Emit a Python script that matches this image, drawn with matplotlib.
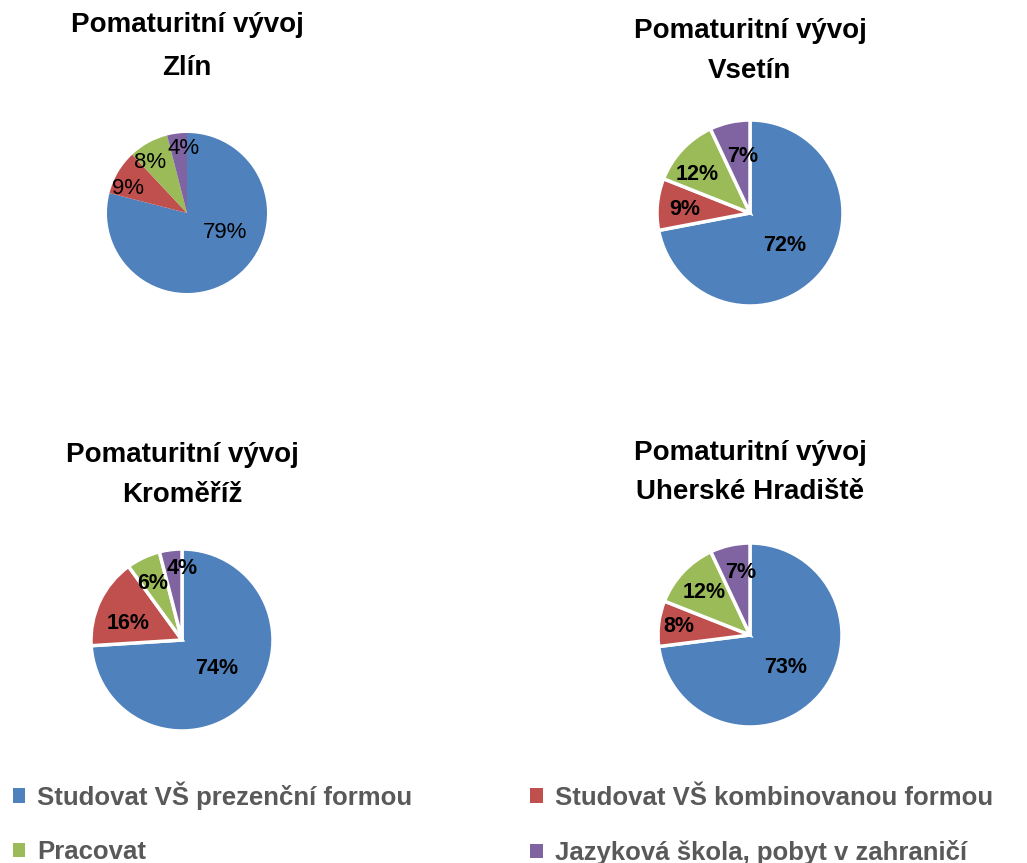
import numpy as np
import matplotlib.pyplot as plt

# Data
kategorie = ["Studovat VŠ prezenční formou", "Studovat VŠ kombinovanou formou",
             "Pracovat", "Jazyková škola, pobyt v zahraničí"]
mesta = ["Zlín", "Vsetín", "Kroměříž", "Uherské Hradiště"]
zlin = [79, 9, 8, 4]
vsetin = [72, 9, 12, 7]
kromeriz = [74, 16, 6, 4]
uh = [73, 8, 12, 7]
hodnoty = [zlin, vsetin, kromeriz, uh]

barvy = ["#4F81BD", "#C0504D", "#9BBB59", "#8064A2"]

W, H = 1027, 863
fig = plt.figure(figsize=(W / 100, H / 100), dpi=100)
plt.rcParams['font.family'] = ['Liberation Sans', 'DejaVu Sans']

# center x, center y (px from top), radius px, title baselines
rozlozeni = [
    (187, 213, 80, 32, 75),
    (750, 213, 93, 38, 78),
    (182, 640, 91, 462, 502),
    (750, 635, 92, 460, 499),
]

# label placement per slice: (angle shift in deg from mid angle, distance)
popisky = [
    [(25, 0.53), (8, 0.80), (7, 0.78), (-4, 0.81)],
    [(-3, 0.51), (2, 0.70), (7, 0.70), (-5, 0.61)],
    [(4, 0.49), (8, 0.62), (2, 0.70), (-7, 0.79)],
    [(-1, 0.52), (0, 0.78), (0, 0.68), (-4, 0.69)],
]

wedges0 = None
for i, (mesto, vals) in enumerate(zip(mesta, hodnoty)):
    cx, cy, r, b1, b2 = rozlozeni[i]
    ax = fig.add_axes([(cx - r) / W, (H - cy - r) / H, 2 * r / W, 2 * r / H])
    if i == 0:
        wp = dict(linewidth=0)
        tp = dict(fontsize=16, color="black")
    else:
        wp = dict(linewidth=2.5, edgecolor="white")
        tp = dict(fontsize=15.5, color="black", fontweight="bold")
    wedges, texts, autotexts = ax.pie(vals, colors=barvy, startangle=90,
                                      counterclock=False, radius=1,
                                      autopct="%1.0f%%", pctdistance=0.7,
                                      wedgeprops=wp, textprops=tp)
    for w, at, (da, d) in zip(wedges, autotexts, popisky[i]):
        ang = np.deg2rad((w.theta1 + w.theta2) / 2 + da)
        at.set_position((d * np.cos(ang), d * np.sin(ang)))
    ax.set_xlim(-1, 1)
    ax.set_ylim(-1, 1)
    ax.set_aspect("equal")
    ax.axis("off")
    if wedges0 is None:
        wedges0 = wedges
    fig.text(cx / W, 1 - b1 / H, "Pomaturitní vývoj", ha="center",
             va="baseline", fontsize=20, fontweight="bold")
    fig.text(cx / W, 1 - b2 / H, mesto, ha="center",
             va="baseline", fontsize=20, fontweight="bold")

poradi = [0, 2, 1, 3]
leg = fig.legend([wedges0[k] for k in poradi], [kategorie[k] for k in poradi],
                 ncol=2, loc="center left", bbox_to_anchor=(13 / W, 1 - 823 / H),
                 frameon=False, fontsize=18.5, borderpad=0, borderaxespad=0,
                 handlelength=0.47, handleheight=0.47, handletextpad=0.47,
                 columnspacing=4.6, labelspacing=1.18)
for t in leg.get_texts():
    t.set_color("#595959")
    t.set_fontweight("bold")

fig.savefig("out.png", dpi=100)
